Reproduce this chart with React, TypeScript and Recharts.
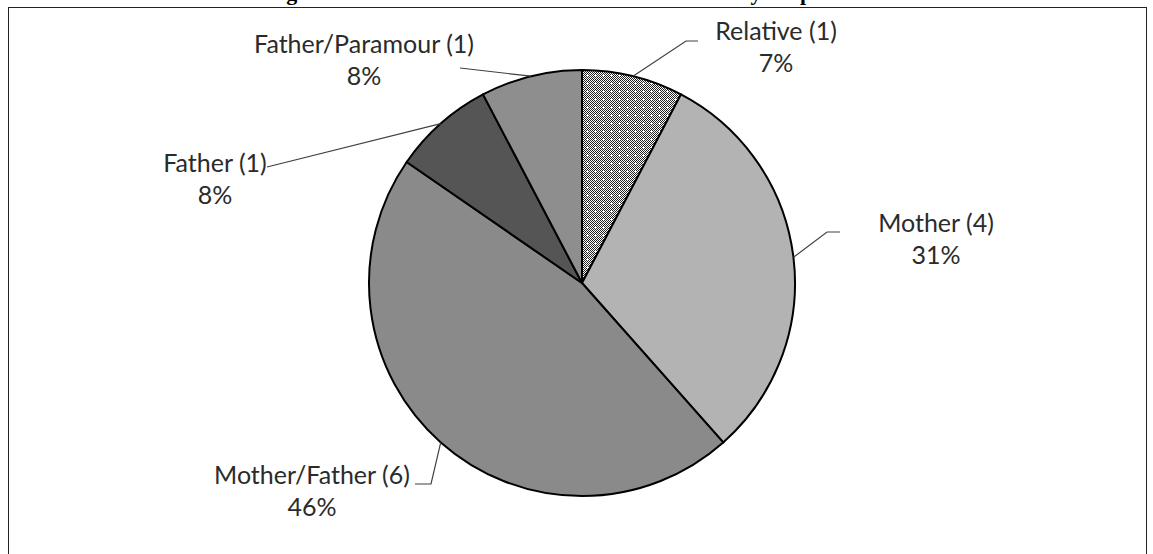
import { Cell, Pie, PieChart } from "recharts";

const PERPETRATORS = [
  "Relative",
  "Mother",
  "Mother/Father",
  "Father",
  "Father/Paramour",
];
const COUNTS = [1, 4, 6, 1, 1];
const PERCENT_LABELS = ["7%", "31%", "46%", "8%", "8%"];

const TITLE = "Figure 3.4: Child Maltreatment Related Fatalities by Perpetrator";

const SLICE_FILLS = [
  "url(#dotPattern)",
  "#b3b3b3",
  "#8a8a8a",
  "#555555",
  "#8e8e8e",
];

// label placement, relative to pie centre (manually dragged in the original)
const LABEL_LAYOUT = [
  { tx: 194, ty: -243, leader: [[104, -242], [116, -242]] },
  { tx: 354, ty: -51, leader: [[245, -51], [258, -51]] },
  { tx: -270, ty: 201, leader: [[-151, 201], [-167, 201]] },
  { tx: -367, ty: -111, leader: [[-315, -116]] },
  { tx: -218, ty: -230, leader: [[-122, -215]] },
];

const CX = 582;
const CY = 283;
const RADIUS = 213;
const RAD = Math.PI / 180;

const data = PERPETRATORS.map((name, i) => ({
  name,
  value: COUNTS[i],
  pct: PERCENT_LABELS[i],
}));

function renderLabel(props: any) {
  const { cx, cy, midAngle, outerRadius, index } = props;
  const layout = LABEL_LAYOUT[index];
  const sx = cx + outerRadius * Math.cos(-midAngle * RAD);
  const sy = cy + outerRadius * Math.sin(-midAngle * RAD);
  const pts = [[sx, sy], ...layout.leader.map(([dx, dy]) => [cx + dx, cy + dy])];
  const d = data[index];
  return (
    <g key={`lbl-${index}`}>
      <polyline
        points={pts.map((p) => p.join(",")).join(" ")}
        fill="none"
        stroke="#404040"
        strokeWidth={1.2}
      />
      <text
        x={cx + layout.tx}
        y={cy + layout.ty}
        textAnchor="middle"
        fill="#2b2b2b"
        fontSize={25}
        fontFamily="Lato, 'Open Sans', sans-serif"
      >
        <tspan x={cx + layout.tx}>{`${d.name} (${d.value})`}</tspan>
        <tspan x={cx + layout.tx} dy={32}>
          {d.pct}
        </tspan>
      </text>
    </g>
  );
}

export default function App() {
  return (
    <div
      style={{
        position: "absolute",
        left: 0,
        top: 0,
        width: 1153,
        height: 554,
        overflow: "hidden",
        background: "#fff",
      }}
    >
      <svg width={0} height={0} style={{ position: "absolute" }}>
        <defs>
          <pattern id="checker" width={2} height={2} patternUnits="userSpaceOnUse">
            <rect width={2} height={2} fill="#ffffff" />
            <rect x={0} y={0} width={1} height={1} fill="#222" />
            <rect x={1} y={1} width={1} height={1} fill="#222" />
          </pattern>
          <pattern id="dotPattern" width={8} height={8} patternUnits="userSpaceOnUse">
            <rect width={8} height={8} fill="url(#checker)" />
            <rect x={3} y={2} width={1} height={3} fill="#fff" />
            <rect x={2} y={3} width={3} height={1} fill="#fff" />
          </pattern>
        </defs>
      </svg>
      {/* title sits mostly above the visible area, as in the source scan */}
      <div
        style={{
          position: "absolute",
          left: 0,
          top: -18,
          width: 1145,
          textAlign: "center",
          fontFamily: "'Liberation Serif', 'Times New Roman', serif",
          fontWeight: "bold",
          fontSize: 22,
          lineHeight: "22px",
          color: "#000",
          whiteSpace: "nowrap",
        }}
      >
        {TITLE}
      </div>
      <div
        style={{
          position: "absolute",
          left: 8,
          top: 7,
          width: 1137,
          height: 600,
          border: "1px solid #222",
        }}
      />
      <div style={{ position: "absolute", left: 0, top: 0 }}>
        <PieChart
          width={1153}
          height={554}
          margin={{ top: 0, right: 0, bottom: 0, left: 0 }}
        >
          <Pie
            data={data}
            dataKey="value"
            nameKey="name"
            cx={CX}
            cy={CY}
            outerRadius={RADIUS}
            startAngle={90}
            endAngle={-270}
            stroke="#000"
            strokeWidth={2}
            label={renderLabel}
            labelLine={false}
            isAnimationActive={false}
          >
            {data.map((d, i) => (
              <Cell key={d.name} fill={SLICE_FILLS[i]} />
            ))}
          </Pie>
        </PieChart>
      </div>
    </div>
  );
}
